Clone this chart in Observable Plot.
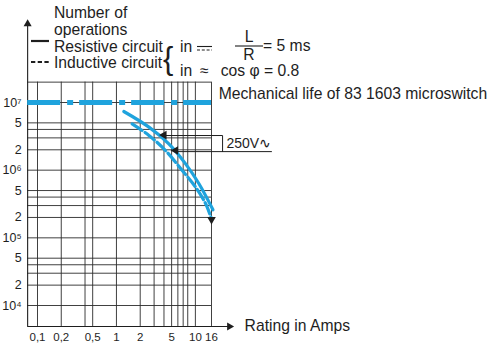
<!DOCTYPE html>
<html><head><meta charset="utf-8">
<script src="https://cdn.jsdelivr.net/npm/d3@7"></script>
<script src="https://cdn.jsdelivr.net/npm/@observablehq/plot@0.6"></script>
<style>
html,body{margin:0;padding:0;background:#fff;}
#chart{width:491px;height:345px;}
</style></head><body><div id="chart"></div>
<script>
const FONT = '"Liberation Sans", Arial, Helvetica, sans-serif';
const BLUE = "#1fa3dd";
const INK = "#1e1e1e";

// tick labels
const xTickValues = [0.1, 0.2, 0.5, 1, 2, 5, 10, 16];
const xTickLabels = ["0,1", "0,2", "0,5", "1", "2", "5", "10", "16"];
const yTickValues = [1e7, 5e6, 2e6, 1e6, 5e5, 2e5, 1e5, 5e4, 2e4, 1e4];
const yTickLabels = ["10⁷", "5", "2", "10⁶", "5", "2", "10⁵", "5", "2", "10⁴"];

// grid of the printed log paper
const xGrid = [0.1, 0.2, 0.4, 0.5, 1, 2, 3, 4, 5, 6, 7, 8, 10, 16];
const yGrid = [1e4, 2e4, 3e4, 4e4, 5e4, 1e5, 2e5, 3e5, 4e5, 5e5, 1e6, 2e6, 3e6, 4e6, 5e6, 1e7, 2e7];

// series: resistive circuit (solid)
const resistiveAmps = [1.24, 2.58, 4.61, 7.52, 11.1, 16.7];
const resistiveOps  = [7.36e6, 4.32e6, 2.45e6, 1.24e6, 6.3e5, 2.6e5];
// series: inductive circuit (dashed)
const inductiveAmps = [1.58, 2.58, 4.19, 6.82, 10.06, 13.5, 16];
const inductiveOps  = [4.84e6, 3.26e6, 1.95e6, 9.9e5, 5.61e5, 3.19e5, 1.91e5];
// mechanical life
const mechanicalLife = 1e7;
const mechanicalLabel = "Mechanical life of 83 1603 microswitch";
const voltageLabel = "250V∿";
const xAxisLabel = "Rating in Amps";

// axis extents (data units)
const xAxisStart = 0.075, xGridEnd = 16, xArrowEnd = 27;
const yAxisStart = 4900, yGridTop = 2e7, yArrowTop = 1.45e8;

const resistive = resistiveAmps.map((a, i) => ({a, n: resistiveOps[i]}));
const inductive = inductiveAmps.map((a, i) => ({a, n: inductiveOps[i]}));
const xTicks = xTickValues.map((v, i) => ({v, t: xTickLabels[i]}));
const yTicks = yTickValues.map((v, i) => ({v, t: yTickLabels[i]}));

// 250V leader
const leader1 = [{a: 4.01, n: 3.25e6}, {a: 22.1, n: 3.25e6}, {a: 22.1, n: 1.88e6}];
const leader2 = [{a: 5.61, n: 1.88e6}, {a: 92, n: 1.88e6}];
const arrowHeads = [{a: 4.01, n: 3.3e6, r: -90}, {a: 5.61, n: 1.95e6, r: -90}, {a: 16, n: 1.87e5, r: 180}];

const gridStroke = "#2b2b2b";

const svg = Plot.plot({
  width: 491, height: 345,
  marginLeft: 28, marginBottom: 20, marginTop: 0, marginRight: 0,
  style: {fontFamily: FONT, fontSize: "11.5px", color: INK, background: "#fff"},
  x: {type: "log", domain: [0.1, 16], range: [37, 211], axis: null},
  y: {type: "log", domain: [1e4, 1e7], range: [305, 102], axis: null},
  marks: [
    Plot.ruleX(xGrid, {y1: yAxisStart, y2: yGridTop, stroke: gridStroke, strokeWidth: 0.9}),
    Plot.ruleY(yGrid, {x1: xAxisStart, x2: xGridEnd, stroke: gridStroke, strokeWidth: 0.9}),
    // axes lines with arrows
    Plot.ruleX([xAxisStart], {y1: yAxisStart, y2: yArrowTop, stroke: INK, strokeWidth: 1.1}),
    Plot.ruleY([yAxisStart], {x1: xAxisStart, x2: xArrowEnd, stroke: INK, strokeWidth: 1.1}),
    Plot.dot([{a: xAxisStart, n: yArrowTop}], {x: "a", y: "n", symbol: "triangle", r: 3, fill: INK, stroke: null}),
    Plot.dot([{a: xArrowEnd, n: yAxisStart}], {x: "a", y: "n", symbol: "triangle", r: 3, fill: INK, stroke: null, rotate: 90}),
    // tick labels
    Plot.text(yTicks, {x: xAxisStart, y: "v", text: "t", textAnchor: "end", dx: -6, fontSize: 12.5, fill: INK}),
    Plot.text(xTicks, {x: "v", y: yAxisStart, text: "t", lineAnchor: "top", dy: 6.5, fontSize: 11.5, fill: INK}),
    // mechanical life
    Plot.ruleY([mechanicalLife], {x1: xAxisStart, x2: xGridEnd, stroke: BLUE, strokeWidth: 5, strokeDasharray: "33,7,6,6"}),
    // leaders
    Plot.line(leader1, {x: "a", y: "n", stroke: INK, strokeWidth: 1}),
    Plot.line(leader2, {x: "a", y: "n", stroke: INK, strokeWidth: 1}),
    // curves
    Plot.line(resistive, {x: "a", y: "n", curve: "catmull-rom", stroke: BLUE, strokeWidth: 3.2}),
    Plot.line(inductive, {x: "a", y: "n", curve: "catmull-rom", stroke: BLUE, strokeWidth: 3.2, strokeDasharray: "12,3.5"}),
    Plot.dot(arrowHeads, {x: "a", y: "n", rotate: "r", symbol: "triangle", r: 3.2, fill: INK, stroke: null}),
    // labels
    Plot.text([mechanicalLabel], {x: 19.7, y: 1.335e7, text: d => d, textAnchor: "start", fontSize: 15.7, fill: INK}),
    Plot.text([voltageLabel], {x: 24.7, y: 2.48e6, text: d => d, textAnchor: "start", fontSize: 14, fill: INK}),
    Plot.text([xAxisLabel], {x: 42, y: yAxisStart, text: d => d, textAnchor: "start", fontSize: 15.7, fill: INK})
  ]
});
document.getElementById("chart").appendChild(svg);

// legend block (top-left)
const g = d3.select(svg).append("g").attr("font-family", FONT).attr("fill", INK)
  .attr("font-size", 15.7).attr("text-anchor", "start");
const legendLines = [["Number of", 54, 18], ["operations", 54, 34.5], ["Resistive circuit", 54, 51.5], ["Inductive circuit", 54, 68.3]];
legendLines.forEach(([t, x, y]) => g.append("text").attr("x", x).attr("y", y).text(t));
g.append("line").attr("x1", 31).attr("x2", 49).attr("y1", 41).attr("y2", 41).attr("stroke", INK).attr("stroke-width", 2.2);
g.append("line").attr("x1", 31).attr("x2", 49).attr("y1", 62).attr("y2", 62).attr("stroke", INK).attr("stroke-width", 2).attr("stroke-dasharray", "4.3,2.4");
g.append("text").attr("x", 163).attr("y", 69).attr("font-size", 31).attr("font-weight", 300).text("{");
g.append("text").attr("x", 180).attr("y", 51.5).text("in");
g.append("line").attr("x1", 197).attr("x2", 212).attr("y1", 46.5).attr("y2", 46.5).attr("stroke", INK).attr("stroke-width", 1.1);
g.append("line").attr("x1", 197).attr("x2", 212).attr("y1", 50).attr("y2", 50).attr("stroke", INK).attr("stroke-width", 1.1).attr("stroke-dasharray", "3,1.8");
g.append("text").attr("x", 249).attr("y", 41.5).attr("text-anchor", "middle").text("L");
g.append("line").attr("x1", 235).attr("x2", 263).attr("y1", 46).attr("y2", 46).attr("stroke", INK).attr("stroke-width", 1.1);
g.append("text").attr("x", 249).attr("y", 59.5).attr("text-anchor", "middle").text("R");
g.append("text").attr("x", 263).attr("y", 51).text("= 5 ms");
g.append("text").attr("x", 180).attr("y", 75.5).text("in");
g.append("text").attr("x", 200).attr("y", 75.5).text("≈");
g.append("text").attr("x", 220.7).attr("y", 75.5).text("cos φ = 0.8");
</script></body></html>
